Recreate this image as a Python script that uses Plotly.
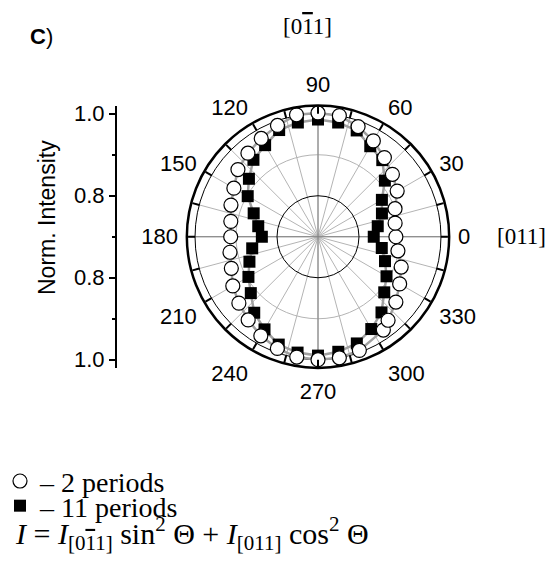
import plotly.graph_objects as go

# ---------------- data ----------------
theta_2p = [0, 10, 20, 30, 40, 50, 60, 70, 80, 90, 100, 110, 120, 130, 140, 150, 160, 170,
            180, 190, 200, 210, 220, 230, 240, 250, 260, 270, 280, 290, 305, 310, 320, 330, 340, 350]
r_2p = [0.890, 0.891, 0.900, 0.923, 0.937, 0.952, 0.970, 0.986, 1.000, 1.002, 1.002, 0.989,
        0.977, 0.966, 0.955, 0.937, 0.926, 0.916, 0.913, 0.918, 0.925, 0.940, 0.952, 0.965,
        0.979, 0.990, 0.998, 1.000, 1.000, 0.995, 0.978, 0.966, 0.948, 0.930, 0.916, 0.898]

theta_11p = [0, 10, 20, 30, 40, 50, 60, 70, 80, 90, 100, 110, 120, 130, 140, 150, 160, 170,
             180, 190, 200, 210, 220, 230, 240, 250, 260, 270, 280, 290, 300, 310, 320, 330, 340, 350]
r_11p = [0.836, 0.848, 0.866, 0.880, 0.913, 0.944, 0.955, 0.976, 0.983, 0.986, 0.983, 0.977,
         0.958, 0.945, 0.920, 0.898, 0.867, 0.848, 0.837, 0.863, 0.878, 0.896, 0.914, 0.942,
         0.961, 0.980, 0.987, 0.990, 0.985, 0.977, 0.960, 0.941, 0.911, 0.893, 0.874, 0.858]

angle_ticks = list(range(0, 360, 15))
angle_labels = [str(a) if a % 30 == 0 else "" for a in angle_ticks]
main_axes_angles = [0, 90, 180, 270]
r_min, r_max = 0.70, 1.02
r_black_rings = [0.8, 1.0]
r_gray_rings = [0.9]
left_tickvals = [-0.3, -0.1, 0.1, 0.3]
left_ticktext = ["1.0", "0.8", "0.8", "1.0"]

# ---------------- layout geometry ----------------
W, H = 552, 580
cx, cy, R = 318, 236, 133
xdom = [(cx - R) / W, (cx + R) / W]
ydom = [(H - cy - R) / H, (H - cy + R) / H]

SANS = "Liberation Sans, Arial, sans-serif"
SERIF = "Liberation Serif, Times New Roman, serif"
BAR1 = '<span style="text-decoration:overline">1</span>'

fig = go.Figure()

# empty traces to instantiate the background polar layers
fig.add_trace(go.Scatterpolar(theta=[], r=[], showlegend=False, subplot="polar"))
fig.add_trace(go.Scatterpolar(theta=[], r=[], showlegend=False, subplot="polar2"))
# gray connecting lines (under markers)
fig.add_trace(go.Scatterpolar(theta=theta_11p + theta_11p[:1], r=r_11p + r_11p[:1], mode="lines",
                              line=dict(color="#a0a0a0", width=2.5), showlegend=False,
                              hoverinfo="skip", subplot="polar3"))
fig.add_trace(go.Scatterpolar(theta=theta_2p + theta_2p[:1], r=r_2p + r_2p[:1], mode="lines",
                              line=dict(color="#a0a0a0", width=2.5), showlegend=False,
                              hoverinfo="skip", subplot="polar3"))
fig.add_trace(go.Scatterpolar(theta=theta_11p, r=r_11p, mode="markers", name="\u2013 11 periods",
                              marker=dict(symbol="square", size=12, color="black",
                                          line=dict(width=0)),
                              legend="legend2", subplot="polar3"))
fig.add_trace(go.Scatterpolar(theta=theta_2p, r=r_2p, mode="markers", name="\u2013 2 periods",
                              marker=dict(symbol="circle", size=14, color="white",
                                          line=dict(color="black", width=1.2)),
                              legend="legend", subplot="polar3"))
# invisible cartesian helper for left intensity axis
fig.add_trace(go.Scatter(x=[], y=[], showlegend=False, xaxis="x", yaxis="y"))

legend_common = dict(x=0.0, xanchor="left", yanchor="middle", bgcolor="rgba(0,0,0,0)",
                     font=dict(family=SERIF, size=28, color="black"), itemwidth=30,
                     tracegroupgap=0, borderwidth=0)

hidden_radial = dict(range=[r_min, r_max], showticklabels=False, ticks="", showline=False)

fig.update_layout(
    width=W, height=H, margin=dict(l=0, r=0, t=0, b=0),
    paper_bgcolor="white", plot_bgcolor="rgba(0,0,0,0)",
    polar=dict(
        domain=dict(x=xdom, y=ydom), bgcolor="white",
        radialaxis=dict(tickvals=r_gray_rings, gridcolor="#b4b4b4", gridwidth=1, **hidden_radial),
        angularaxis=dict(direction="counterclockwise", rotation=0, tickmode="array",
                         tickvals=angle_ticks, ticktext=angle_labels, ticks="outside",
                         ticklen=4, tickcolor="rgba(0,0,0,0)", showline=False,
                         gridcolor="#b4b4b4", gridwidth=1,
                         tickfont=dict(family=SANS, size=22, color="black")),
    ),
    polar2=dict(
        domain=dict(x=xdom, y=ydom), bgcolor="rgba(0,0,0,0)",
        radialaxis=dict(showgrid=False, **hidden_radial),
        angularaxis=dict(direction="counterclockwise", rotation=0, tickmode="array",
                         tickvals=main_axes_angles, showticklabels=False, ticks="",
                         showline=False, gridcolor="#808080", gridwidth=1.2),
    ),
    polar3=dict(
        domain=dict(x=xdom, y=ydom), bgcolor="rgba(0,0,0,0)",
        radialaxis=dict(tickvals=r_black_rings, gridcolor="black", gridwidth=1, **hidden_radial),
        angularaxis=dict(direction="counterclockwise", rotation=0, tickmode="array",
                         tickvals=angle_ticks, showticklabels=False, ticks="inside",
                         ticklen=7, tickwidth=1.5, tickcolor="black", showgrid=False,
                         showline=True, linecolor="black", linewidth=2.5),
    ),
    xaxis=dict(domain=[117 / W, 118 / W], visible=False, range=[0, 1]),
    yaxis=dict(domain=ydom, range=[-(r_max - r_min), r_max - r_min], anchor="x", side="left",
               showline=True, linecolor="black", linewidth=2, showgrid=False, zeroline=False,
               tickmode="array", tickvals=left_tickvals, ticktext=left_ticktext,
               ticks="outside", ticklen=6, tickwidth=1.5, tickcolor="black",
               minor=dict(dtick=0.1, tick0=0, ticks="outside", ticklen=3, tickwidth=1.5,
                          tickcolor="black", showgrid=False),
               tickfont=dict(family=SANS, size=22, color="black")),
    showlegend=True,
    legend=dict(y=1 - 484 / H, **legend_common),
    legend2=dict(y=1 - 509 / H, **legend_common),
)

def ann(text, px, py, size, family, xanchor="center", angle=0):
    fig.add_annotation(text=text, x=px / W, y=1 - py / H, xref="paper", yref="paper",
                       showarrow=False, xanchor=xanchor, yanchor="middle", textangle=angle,
                       font=dict(family=family, size=size, color="black"))

ann("<b>C</b>)", 41, 33, 22, SANS)
ann("[0" + BAR1 + "1]", 307, 23, 23, SERIF)
ann("[011]", 495, 236, 23, SERIF, xanchor="left")
ann("Norm. Intensity", 47, 217, 23, SANS, angle=-90)
ann("<i>I</i> = <i>I</i><sub>[0" + BAR1 + "1]</sub> sin<sup>2</sup> \u0398 + "
    "<i>I</i><sub>[011]</sub> cos<sup>2</sup> \u0398", 13, 537, 30, SERIF, xanchor="left")

fig.write_html("out.html")
